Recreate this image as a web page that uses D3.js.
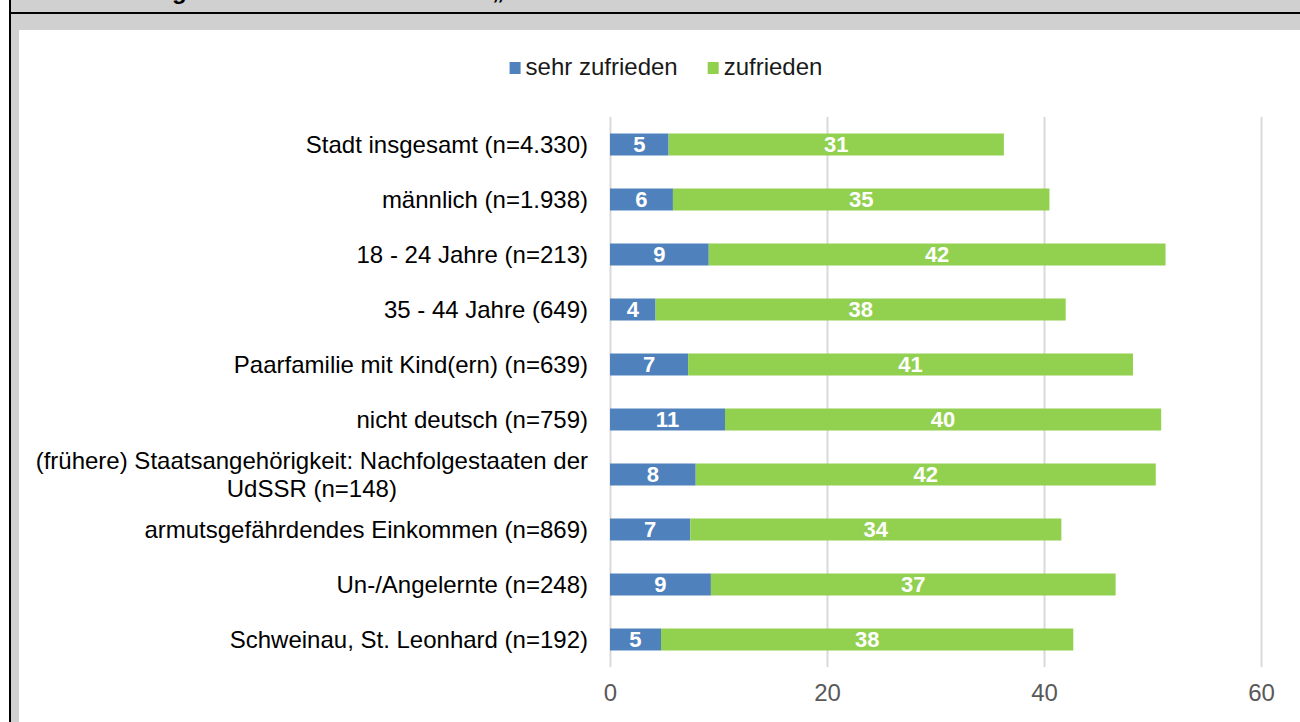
<!DOCTYPE html>
<html><head><meta charset="utf-8">
<script src="https://cdn.jsdelivr.net/npm/d3@7"></script>
<style>
html,body{margin:0;padding:0;background:#fff;overflow:hidden;}
svg{display:block;position:absolute;left:0;top:0;font-family:"Liberation Sans",Arial,sans-serif;}
</style></head>
<body>
<svg id="chart" width="1300" height="722"></svg>
<script>
const titleText = "Abbildung 19: Zufriedenheit mit dem „Wohnumfeld“";
const categories = [
  "Stadt insgesamt (n=4.330)",
  "männlich (n=1.938)",
  "18 - 24 Jahre (n=213)",
  "35 - 44 Jahre (649)",
  "Paarfamilie mit Kind(ern) (n=639)",
  "nicht deutsch (n=759)",
  "(frühere) Staatsangehörigkeit: Nachfolgestaaten der\nUdSSR (n=148)",
  "armutsgefährdendes Einkommen (n=869)",
  "Un-/Angelernte (n=248)",
  "Schweinau, St. Leonhard (n=192)"
];
const seriesNames = ["sehr zufrieden", "zufrieden"];
const sehrZufrieden = [5.4, 5.8, 9.1, 4.2, 7.2, 10.6, 7.9, 7.4, 9.3, 4.7];
const zufrieden = [30.9, 34.7, 42.1, 37.8, 41.0, 40.2, 42.4, 34.2, 37.3, 38.0];
const xTicks = [0, 20, 40, 60];
const colors = ["#4f81bd", "#92d050"];

const svg = d3.select("#chart");

// frame
svg.append("rect").attr("x", 11).attr("y", 0).attr("width", 1289).attr("height", 722).attr("fill", "#d0d0d0");
svg.append("rect").attr("x", 9).attr("y", 0).attr("width", 2).attr("height", 722).attr("fill", "#000");
svg.append("rect").attr("x", 9).attr("y", 12).attr("width", 1291).attr("height", 2).attr("fill", "#000");
svg.append("rect").attr("x", 19).attr("y", 30).attr("width", 1281).attr("height", 692).attr("fill", "#fff");
svg.append("text").attr("x", 68).attr("y", -1.5)
  .attr("font-size", 24).attr("font-weight", "bold").attr("fill", "#000").text(titleText);

const x = d3.scaleLinear().domain([0, 60]).range([610, 1261]);
const y = d3.scaleBand().domain(categories).range([117, 667]).paddingInner(0.6).paddingOuter(0.3);

// grid
const xAxis = d3.axisBottom(x).tickValues(xTicks).tickSize(-(667 - 117)).tickPadding(17).tickFormat(d3.format("d"));
const gx = svg.append("g").attr("transform", "translate(0,667)").call(xAxis);
gx.select(".domain").remove();
gx.selectAll(".tick line").attr("stroke", "#d9d9d9").attr("stroke-width", 2);
gx.selectAll(".tick text").attr("fill", "#595959").attr("font-size", 24)
  .attr("font-family", "Liberation Sans, Arial, sans-serif").attr("dy", "0.71em");

// stacked data
const rows = categories.map((c, i) => ({cat: c, vals: [sehrZufrieden[i], zufrieden[i]]}));
rows.forEach((r, i) => {
  let x0 = 0;
  r.vals.forEach((v, k) => {
    const g = svg.append("g");
    g.append("rect")
      .attr("x", x(x0)).attr("y", y(r.cat))
      .attr("width", x(x0 + v) - x(x0)).attr("height", y.bandwidth())
      .attr("fill", colors[k]);
    g.append("text")
      .attr("x", (x(x0) + x(x0 + v)) / 2).attr("y", y(r.cat) + y.bandwidth() / 2)
      .attr("dy", "0.36em").attr("text-anchor", "middle")
      .attr("fill", "#fff").attr("font-weight", "bold").attr("font-size", 22)
      .text(Math.round(v));
    x0 += v;
  });
});

// category labels
const labelRight = 588;
categories.forEach(c => {
  const lines = c.split("\n");
  const t = svg.append("text").attr("font-size", 24).attr("fill", "#000");
  const cy = y(c) + y.bandwidth() / 2;
  const lh = 28;
  const sp = lines.map((l, j) => t.append("tspan").text(l)
      .attr("y", cy + (j - (lines.length - 1) / 2) * lh).attr("dy", "0.36em"));
  const widths = sp.map(s => s.node().getComputedTextLength());
  const maxW = d3.max(widths);
  sp.forEach(s => s.attr("x", labelRight - maxW / 2).attr("text-anchor", "middle"));
});

// legend
const lg = svg.append("g");
let lx = 0;
seriesNames.forEach((n, k) => {
  const it = lg.append("g").attr("transform", `translate(${lx},0)`);
  it.append("rect").attr("x", 0).attr("y", -13).attr("width", 11).attr("height", 12).attr("fill", colors[k]);
  const tx = it.append("text").attr("x", 16).attr("y", 0).attr("font-size", 24).attr("fill", "#1a1a1a").text(n);
  lx += 16 + tx.node().getComputedTextLength() + 30;
});
const lw = lx - 30;
lg.attr("transform", `translate(${666 - lw / 2},75)`);
</script>
</body></html>
